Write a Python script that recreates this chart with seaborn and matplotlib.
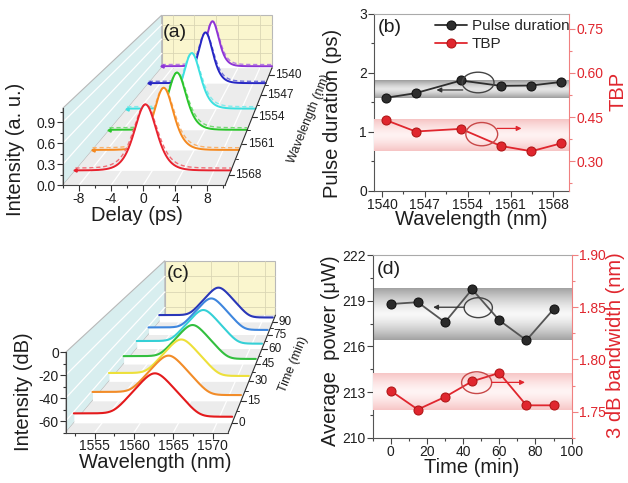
import numpy as np
import pandas as pd
import seaborn as sns
import matplotlib
matplotlib.use("Agg")
import matplotlib.pyplot as plt
from matplotlib.patches import Ellipse, Polygon
from matplotlib.lines import Line2D
from matplotlib.transforms import Affine2D
from matplotlib.ticker import MultipleLocator
from matplotlib.colors import LinearSegmentedColormap, to_rgb

sns.set_theme(style="ticks")
plt.rcParams['font.family'] = ['Liberation Sans', 'DejaVu Sans']
plt.rcParams['axes.unicode_minus'] = False
plt.rcParams['axes.linewidth'] = 0.8

W, H = 628, 483

# ---------------- data ----------------
# (a) autocorrelation traces, listed back to front
ac_wavelength = [1537.0, 1543.0, 1551.5, 1557.5, 1562.5, 1567.0]
ac_color = ['#8E35D6', '#2626C4', '#3DE0E0', '#2BC52B', '#F5891F', '#E8222E']
ac_center = [-0.7, -0.2, 0.15, -0.1, -0.2, -0.9]
ac_peak = [0.94, 1.00, 1.00, 0.96, 0.98, 0.98]
ac_fwhm = [2.8, 3.0, 3.2, 3.2, 3.2, 3.4]
ac_base = [0.03, 0.0, 0.0, 0.0, 0.0, 0.0]
wl_depth_ticks = [1540, 1547, 1554, 1561, 1568]

# (b) pulse duration and time-bandwidth product
wl_b = [1540.6, 1545.5, 1552.9, 1559.4, 1564.4, 1569.3]
pulse_ps = [1.576, 1.656, 1.871, 1.780, 1.786, 1.847]
tbp = [0.440, 0.401, 0.410, 0.352, 0.334, 0.361]

# (c) optical spectra over time, listed front to back
sp_time = [0, 15, 30, 45, 60, 75, 90]
sp_color = ['#E41A1C', '#F28C28', '#EDE03A', '#33BF3F', '#35D0D6', '#3E86DE', '#2A37B8']
sp_center = [1561.9, 1561.9, 1562.0, 1562.1, 1562.3, 1562.2, 1562.1]
sp_peak = [-25.6, -26.8, -27.5, -28.1, -26.4, -27.0, -27.2]
sp_width = 1.12
sp_floor_left = -61.5
sp_floor_right = -64.5

# (d) average power and 3 dB bandwidth over time
time_min = [0, 15, 30, 45, 60, 75, 90]
power_uw = [218.78, 218.90, 217.58, 219.75, 217.71, 216.40, 218.44]
bw_nm = [1.770, 1.752, 1.764, 1.779, 1.787, 1.756, 1.756]

RED = '#E0262E'
DARK = '#2E2E2E'
TXT = '#1E1E1E'
TICK_FS = 10
LABEL_FS = 14.5

fig = plt.figure(figsize=(W / 100, H / 100), dpi=100)
fig.patch.set_facecolor('white')


def box(left, top, right, bottom):
    return [left / W, 1 - bottom / H, (right - left) / W, (bottom - top) / H]


def lighten(c, f):
    r, g, b = to_rgb(c)
    return (r + (1 - r) * f, g + (1 - g) * f, b + (1 - b) * f)


# ---------------- oblique waterfall helpers ----------------
class Waterfall:
    def __init__(self, ax, vx, vy, sback, dlim):
        self.ax, self.vx, self.vy, self.sback, self.dlim = ax, vx, vy, sback, dlim

    def scale(self, d):
        k = (d - self.dlim[0]) / (self.dlim[1] - self.dlim[0])
        return 1.0 / (1.0 + (1.0 / self.sback - 1.0) * k)

    def P(self, xf, yf, s):
        return (self.vx + (xf - self.vx) * s, self.vy + (yf - self.vy) * s)

    def persp(self, s):
        return (Affine2D().translate(-self.vx, -self.vy).scale(s)
                .translate(self.vx, self.vy) + self.ax.transAxes)

    def T(self, s):
        ax = self.ax
        return ax.transScale + ax.transLimits + self.persp(s)

    def walls(self, xt, yt):
        ax, sb, P = self.ax, self.sback, self.P
        kw = dict(transform=ax.transAxes, clip_on=False)
        ax.add_patch(Polygon([P(0, 0, sb), P(1, 0, sb), P(1, 1, sb), P(0, 1, sb)],
                             closed=True, facecolor='#FAF6CE', edgecolor='#B8B8B8',
                             lw=0.8, zorder=0.2, **kw))
        ax.add_patch(Polygon([(0, 0), (0, 1), P(0, 1, sb), P(0, 0, sb)], closed=True,
                             facecolor='#D8EEEF', edgecolor='#B8B8B8', lw=0.8,
                             zorder=0.2, **kw))
        ax.add_patch(Polygon([(0, 0), (1, 0), P(1, 0, sb), P(0, 0, sb)], closed=True,
                             facecolor='#ECECEC', edgecolor='none', zorder=0.2, **kw))
        # grid on back wall
        for x in xt:
            ax.plot([x, x], list(ax.get_ylim()), transform=self.T(sb), color='#DAD6B4',
                    lw=0.6, zorder=0.3, clip_on=False)
        for y in yt:
            ax.plot(list(ax.get_xlim()), [y, y], transform=self.T(sb), color='#DAD6B4',
                    lw=0.6, zorder=0.3, clip_on=False)
        # grid on the side wall and the floor
        for y in yt:
            yf = ax.transLimits.transform((ax.get_xlim()[0], y))[1]
            a, b = (0, yf), P(0, yf, sb)
            ax.add_line(Line2D([a[0], b[0]], [a[1], b[1]], color='white', lw=0.9,
                               zorder=0.3, **kw))
        for x in xt:
            xf = ax.transLimits.transform((x, ax.get_ylim()[0]))[0]
            a, b = (xf, 0), P(xf, 0, sb)
            ax.add_line(Line2D([a[0], b[0]], [a[1], b[1]], color='white', lw=0.9,
                               zorder=0.3, **kw))

    def depth_axis(self, ticks, minor, labels, title, title_pos, wpx):
        ax, P = self.ax, self.P
        kw = dict(transform=ax.transAxes, clip_on=False)
        a, b = (1, 0), P(1, 0, self.sback)
        ax.add_line(Line2D([a[0], b[0]], [a[1], b[1]], color=DARK, lw=0.8, zorder=5, **kw))
        L = 4.5 / wpx
        for d, lab in zip(ticks, labels):
            px, py = P(1, 0, self.scale(d))
            ax.add_line(Line2D([px, px + L], [py, py], color=DARK, lw=0.8, zorder=5, **kw))
            ax.text(px + L + 1.5 / wpx, py, lab, ha='left', va='center', fontsize=8.5,
                    color=TXT, transform=ax.transAxes)
        for d in minor:
            px, py = P(1, 0, self.scale(d))
            ax.add_line(Line2D([px, px + L * 0.55], [py, py], color=DARK, lw=0.7,
                               zorder=5, **kw))
        ax.text(title_pos[0], title_pos[1], title, rotation=68, ha='center', va='center',
                rotation_mode='anchor', fontsize=9, color=TXT, transform=ax.transAxes)


def style_front(ax):
    for side in ('top', 'right'):
        ax.spines[side].set_visible(False)
    for side in ('left', 'bottom'):
        ax.spines[side].set_color('#444444')
        ax.spines[side].set_zorder(6)
    ax.patch.set_visible(False)
    ax.tick_params(which='both', direction='out', color='#333333', labelsize=TICK_FS,
                   labelcolor=TXT, width=0.8, pad=1)
    ax.tick_params(which='major', length=4)
    ax.tick_params(which='minor', length=2.5)


# ---------------- (a) ----------------
axa = fig.add_axes(box(62.7, 108.3, 225.0, 185.5))
axa.set_xlim(-10.0, 10.2)
axa.set_ylim(0.0, 1.1)
axa.set_xticks([-8, -4, 0, 4, 8])
axa.set_yticks([0.0, 0.3, 0.6, 0.9])
axa.yaxis.set_major_formatter(plt.FormatStrFormatter('%.1f'))
axa.xaxis.set_minor_locator(MultipleLocator(2))
axa.yaxis.set_minor_locator(MultipleLocator(0.15))
style_front(axa)
wa = Waterfall(axa, 1.906, 4.77, 0.68, (1570.0, 1537.0))
wa.walls([-8, -4, 0, 4, 8], [0.3, 0.6, 0.9])

delay = np.linspace(-10.0, 10.2, 500)
for i, (d, c, x0, pk, fw, b0) in enumerate(zip(ac_wavelength, ac_color, ac_center,
                                                ac_peak, ac_fwhm, ac_base)):
    s = wa.scale(d)
    T = wa.T(s)
    meas = b0 + pk / np.cosh(1.7627 * (delay - x0) / fw) ** 2
    fit = b0 + 0.035 + (pk - 0.03) / np.cosh(1.7627 * (delay - x0) / (fw * 1.08)) ** 2
    z = 1 + i * 0.1
    axa.fill_between(delay, 0.0, meas, transform=T, color='white', lw=0, zorder=z,
                     clip_on=False)
    axa.plot(delay, fit, transform=T, color=lighten(c, 0.35), lw=1.0, ls=(0, (3, 2)),
             zorder=z + 0.02, clip_on=False)
    axa.plot(delay, meas, transform=T, color=c, lw=1.4, zorder=z + 0.03, clip_on=False)
    axa.plot(delay[:1], meas[:1], transform=T, color=c, marker='<', ms=2.3, lw=0,
             zorder=z + 0.04, clip_on=False)

wa.depth_axis(wl_depth_ticks, [w + 3.5 for w in wl_depth_ticks[:-1]],
              [str(w) for w in wl_depth_ticks], 'Wavelength (nm)', (1.52, 0.87), 162.3)
axa.set_xlabel('Delay (ps)', fontsize=LABEL_FS, color=TXT)
axa.set_ylabel('Intensity (a. u.)', fontsize=LABEL_FS, color=TXT)
axa.xaxis.set_label_coords(0.456, -0.266)
axa.yaxis.set_label_coords(-0.232, 0.47)
fig.text(163 / W, 1 - 32.5 / H, '(a)', fontsize=14, ha='left', va='center', color=TXT)

# ---------------- (c) ----------------
axc = fig.add_axes(box(65.7, 352.3, 228.3, 432.5))
axc.set_xlim(1551.3, 1572.0)
axc.set_ylim(-70.0, 0.0)
axc.set_xticks([1555, 1560, 1565, 1570])
axc.set_yticks([0, -20, -40, -60])
axc.xaxis.set_minor_locator(MultipleLocator(2.5))
axc.yaxis.set_minor_locator(MultipleLocator(10))
style_front(axc)
wc = Waterfall(axc, 1.906, 4.57, 0.68, (-6.0, 98.5))
wc.walls([1555, 1560, 1565, 1570], [-60, -40, -20])

lam = np.linspace(1551.3, 1572.0, 600)
order = list(range(len(sp_time)))[::-1]
for rank, i in enumerate(order):
    s = wc.scale(sp_time[i])
    T = wc.T(s)
    floor_db = np.where(lam < sp_center[i], sp_floor_left, sp_floor_right)
    spec = 10 * np.log10(10 ** (sp_peak[i] / 10) / np.cosh((lam - sp_center[i]) / sp_width) ** 2
                         + 10 ** (floor_db / 10))
    z = 1 + rank * 0.1
    axc.fill_between(lam, -70.0, spec, transform=T, color='white', lw=0, zorder=z,
                     clip_on=False)
    axc.plot(lam, spec, transform=T, color=sp_color[i], lw=1.5, zorder=z + 0.03,
             clip_on=False)

wc.depth_axis(sp_time, [t + 7.5 for t in sp_time[:-1]], [str(t) for t in sp_time],
              'Time (min)', (1.40, 0.85), 162.6)
axc.set_xlabel('Wavelength (nm)', fontsize=LABEL_FS, color=TXT)
axc.set_ylabel('Intensity (dB)', fontsize=LABEL_FS, color=TXT)
axc.xaxis.set_label_coords(0.549, -0.258)
axc.yaxis.set_label_coords(-0.201, 0.51)
fig.text(167 / W, 1 - 274 / H, '(c)', fontsize=14, ha='left', va='center', color=TXT)


# ---------------- shared styling for the two-axis panels ----------------
def gradient_band(ax, y0, y1, xlim, c_mid, c_edge):
    g = np.abs(np.linspace(-1, 1, 256)) ** 1.4
    cmap = LinearSegmentedColormap.from_list('band', [c_mid, c_edge])
    ax.imshow(g[:, None], extent=(xlim[0], xlim[1], y0, y1), aspect='auto', cmap=cmap,
              vmin=0, vmax=1, origin='lower', interpolation='bilinear', zorder=0.5)


def style_twin(ax, ax2):
    for side in ('left', 'bottom'):
        ax.spines[side].set_color('#555555')
    ax.spines['top'].set_color('#AAAAAA')
    ax.spines['right'].set_visible(False)
    for side in ('left', 'top', 'bottom'):
        ax2.spines[side].set_visible(False)
    ax2.spines['right'].set_color('#F08080')
    ax.tick_params(which='both', direction='out', labelsize=TICK_FS, labelcolor=TXT,
                   color='#444444', width=0.8, pad=1)
    ax.tick_params(which='major', length=4)
    ax.tick_params(which='minor', length=2.5)
    ax2.tick_params(which='both', direction='out', labelsize=TICK_FS, labelcolor=RED,
                    color='#F08080', width=0.8, pad=1.5)
    ax2.tick_params(which='major', length=4)
    ax2.tick_params(which='minor', length=2.5)


def arrow(ax, x0, x1, y, color):
    ax.annotate('', xy=(x1, y), xytext=(x0, y),
                arrowprops=dict(arrowstyle='-|>', color=color, lw=0.9, mutation_scale=7,
                                shrinkA=0, shrinkB=0), zorder=4)


# ---------------- (b) ----------------
df_b = pd.DataFrame({'wavelength': wl_b, 'pulse': pulse_ps, 'tbp': tbp})
axb = fig.add_axes(box(374.0, 14.0, 569.3, 190.7))
axb2 = axb.twinx()
xlim_b = (1538.7, 1570.6)
gradient_band(axb, min(pulse_ps), max(pulse_ps), xlim_b, '#E6E6E6', '#9C9C9C')
gradient_band(axb2, min(tbp), max(tbp), xlim_b, '#FFF2F2', '#F6C4C4')
sns.lineplot(data=df_b, x='wavelength', y='pulse', ax=axb, color=DARK, lw=1.3,
             marker='o', markersize=6.5, markeredgecolor='#111111', legend=False, zorder=3)
sns.lineplot(data=df_b, x='wavelength', y='tbp', ax=axb2, color=RED, lw=1.3,
             marker='o', markersize=6.5, markeredgecolor='#B01515', legend=False, zorder=3)
axb.set_xlim(*xlim_b)
axb.set_ylim(0, 3)
axb2.set_ylim(0.2, 0.8)
axb.set_xticks([1540, 1547, 1554, 1561, 1568])
axb.xaxis.set_minor_locator(MultipleLocator(3.5))
axb.set_yticks([0, 1, 2, 3])
axb.yaxis.set_minor_locator(MultipleLocator(0.5))
axb2.set_yticks([0.30, 0.45, 0.60, 0.75])
axb2.yaxis.set_major_formatter(plt.FormatStrFormatter('%.2f'))
axb2.yaxis.set_minor_locator(MultipleLocator(0.075))
style_twin(axb, axb2)
axb.add_patch(Ellipse((1555.7, 1.837), 5.2, 0.35, fill=False, edgecolor='#444444',
                      lw=1.0, zorder=4))
arrow(axb, 1553.2, 1548.9, 1.71, '#333333')
axb2.add_patch(Ellipse((1556.3, 0.392), 5.2, 0.079, fill=False, edgecolor='#C84848',
                       lw=1.0, zorder=4))
arrow(axb2, 1558.8, 1562.8, 0.4115, RED)
axb.set_xlabel('Wavelength (nm)', fontsize=LABEL_FS, color=TXT)
axb.set_ylabel('Pulse duration (ps)', fontsize=LABEL_FS, color=TXT)
axb2.set_ylabel('TBP', fontsize=LABEL_FS, color=RED)
axb.xaxis.set_label_coords(0.5, -0.112)
axb.yaxis.set_label_coords(-0.164, 0.437)
axb2.yaxis.set_label_coords(1.203, 0.564)
handles = [axb.lines[0], axb2.lines[0]]
axb2.legend(handles, ['Pulse duration', 'TBP'], loc='upper right', frameon=False,
            fontsize=11, handlelength=2.1, handletextpad=0.3, labelspacing=0.25,
            borderaxespad=0.15, bbox_to_anchor=(1.045, 1.017))
fig.text(378 / W, 1 - 28 / H, '(b)', fontsize=14, ha='left', va='center', color=TXT)

# ---------------- (d) ----------------
df_d = pd.DataFrame({'time': time_min, 'power': power_uw, 'bw': bw_nm})
axd = fig.add_axes(box(372.5, 255.0, 571.7, 437.7))
axd2 = axd.twinx()
xlim_d = (-10, 100)
gradient_band(axd, min(power_uw), max(power_uw), xlim_d, '#F8F8F8', '#A2A2A2')
gradient_band(axd2, min(bw_nm), max(bw_nm), xlim_d, '#FFF4F4', '#F7C6C6')
sns.lineplot(data=df_d, x='time', y='power', ax=axd, color='#555555', lw=1.3,
             marker='o', markersize=6.5, markerfacecolor='#2A2A2A', markeredgecolor='#111111',
             legend=False, zorder=3)
sns.lineplot(data=df_d, x='time', y='bw', ax=axd2, color=RED, lw=1.3,
             marker='o', markersize=6.5, markeredgecolor='#B01515', legend=False, zorder=3)
axd.set_xlim(*xlim_d)
axd.set_ylim(210, 222)
axd2.set_ylim(1.725, 1.90)
axd.set_xticks([0, 20, 40, 60, 80, 100])
axd.xaxis.set_minor_locator(MultipleLocator(10))
axd.set_yticks([210, 213, 216, 219, 222])
axd.yaxis.set_minor_locator(MultipleLocator(1.5))
axd2.set_yticks([1.75, 1.80, 1.85, 1.90])
axd2.yaxis.set_major_formatter(plt.FormatStrFormatter('%.2f'))
axd2.yaxis.set_minor_locator(MultipleLocator(0.025))
style_twin(axd, axd2)
axd.add_patch(Ellipse((48.4, 218.54), 15.6, 1.31, fill=False, edgecolor='#444444',
                      lw=1.0, zorder=4))
arrow(axd, 40.7, 23.5, 218.57, '#333333')
axd2.add_patch(Ellipse((47.5, 1.7777), 16.6, 0.0208, fill=False, edgecolor='#C84848',
                       lw=1.0, zorder=4))
arrow(axd2, 55.8, 74.2, 1.778, RED)
axd.set_xlabel('Time (min)', fontsize=LABEL_FS, color=TXT)
axd.set_ylabel('Average  power (\u03bcW)', fontsize=LABEL_FS, color=TXT)
axd2.set_ylabel('3 dB bandwidth (nm)', fontsize=LABEL_FS, color=RED)
axd.xaxis.set_label_coords(0.5, -0.111)
axd.yaxis.set_label_coords(-0.163, 0.475)
axd2.yaxis.set_label_coords(1.172, 0.507)
fig.text(377 / W, 1 - 270 / H, '(d)', fontsize=14, ha='left', va='center', color=TXT)

fig.savefig('out.png', dpi=100, facecolor='white')
